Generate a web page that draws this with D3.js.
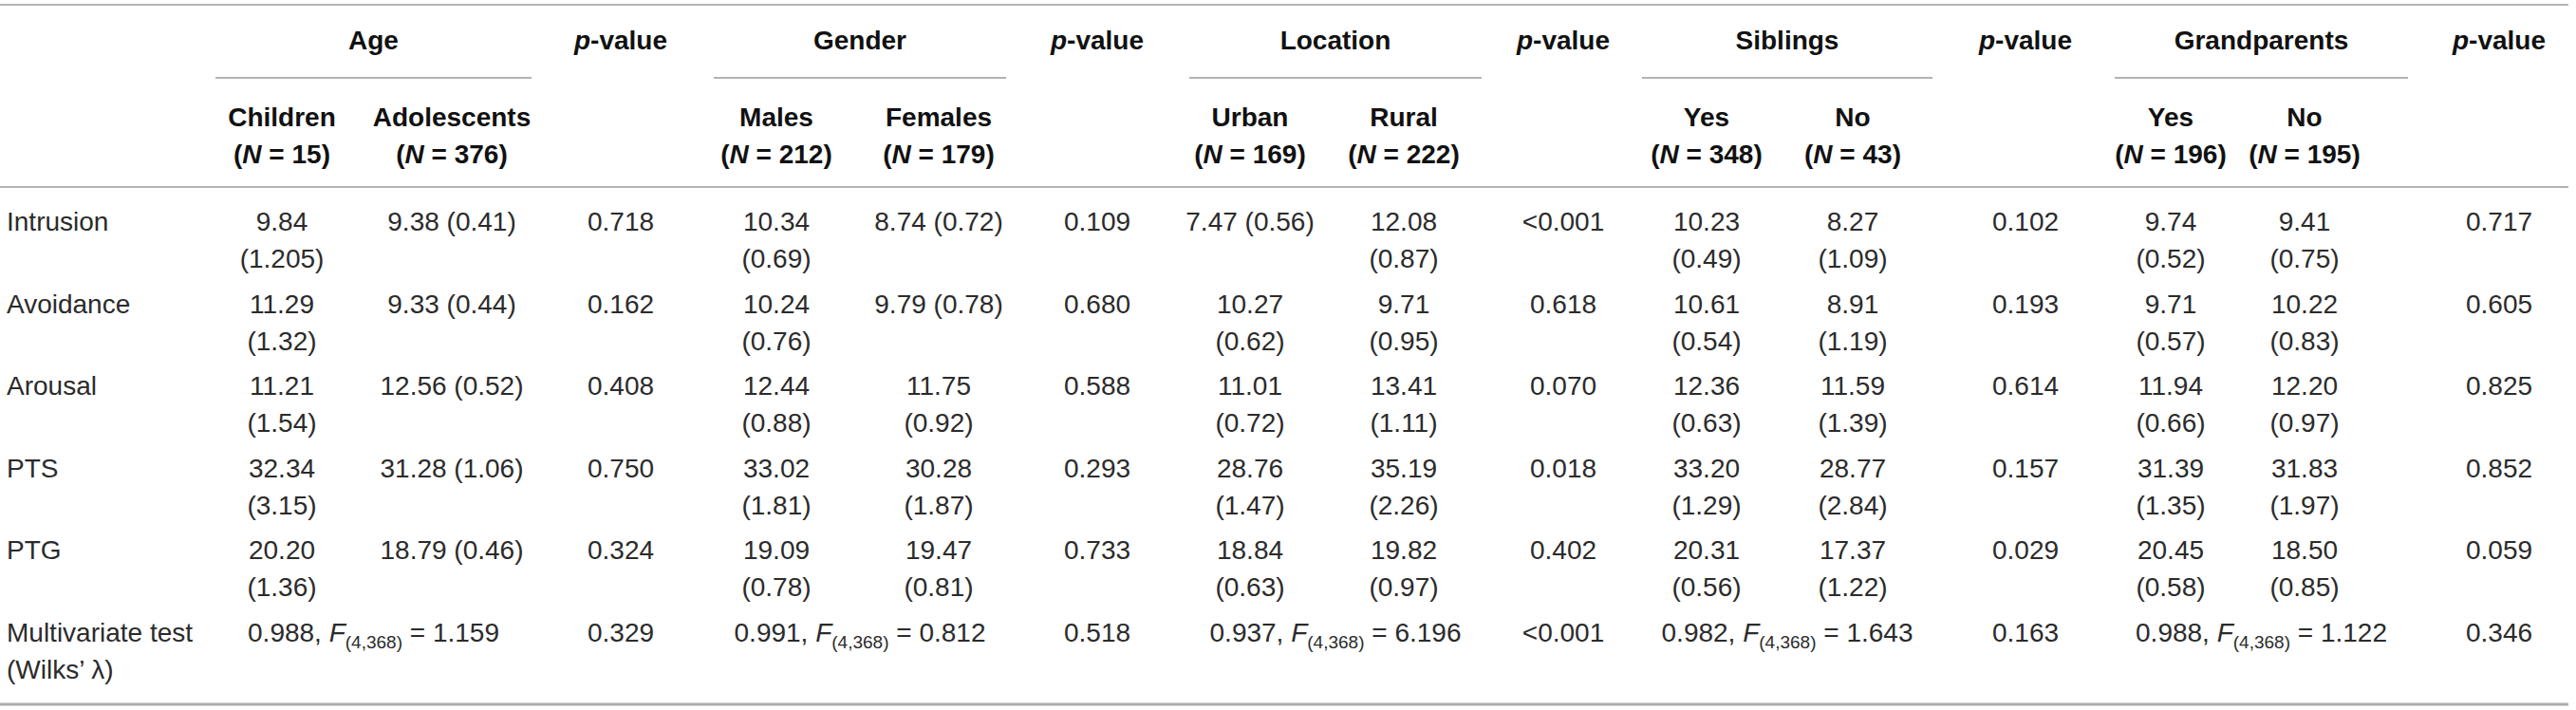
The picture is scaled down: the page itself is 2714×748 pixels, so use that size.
<!DOCTYPE html>
<html>
<head>
<meta charset="utf-8">
<script src="https://cdn.jsdelivr.net/npm/d3@7"></script>
<style>
  body { margin: 0; background: #fff; }
  svg text { font-family: "Liberation Sans", Arial, Helvetica, sans-serif; }
</style>
</head>
<body>
<svg id="table"></svg>
<script>
var rowLabels = ["Intrusion", "Avoidance", "Arousal", "PTS", "PTG"]
var groups = ["Age", "Gender", "Location", "Siblings", "Grandparents"]
var subLabels = ["Children", "Adolescents", "Males", "Females", "Urban", "Rural", "Yes", "No", "Yes", "No"]
var subN = [15, 376, 212, 179, 169, 222, 348, 43, 196, 195]

// mean per row, one entry per sub column
var means = [
  ["9.84", "9.38", "10.34", "8.74", "7.47", "12.08", "10.23", "8.27", "9.74", "9.41"],
  ["11.29", "9.33", "10.24", "9.79", "10.27", "9.71", "10.61", "8.91", "9.71", "10.22"],
  ["11.21", "12.56", "12.44", "11.75", "11.01", "13.41", "12.36", "11.59", "11.94", "12.20"],
  ["32.34", "31.28", "33.02", "30.28", "28.76", "35.19", "33.20", "28.77", "31.39", "31.83"],
  ["20.20", "18.79", "19.09", "19.47", "18.84", "19.82", "20.31", "17.37", "20.45", "18.50"]
]
var sds = [
  ["1.205", "0.41", "0.69", "0.72", "0.56", "0.87", "0.49", "1.09", "0.52", "0.75"],
  ["1.32", "0.44", "0.76", "0.78", "0.62", "0.95", "0.54", "1.19", "0.57", "0.83"],
  ["1.54", "0.52", "0.88", "0.92", "0.72", "1.11", "0.63", "1.39", "0.66", "0.97"],
  ["3.15", "1.06", "1.81", "1.87", "1.47", "2.26", "1.29", "2.84", "1.35", "1.97"],
  ["1.36", "0.46", "0.78", "0.81", "0.63", "0.97", "0.56", "1.22", "0.58", "0.85"]
]

// p-values per group, last entry is the multivariate test
var pAge = ["0.718", "0.162", "0.408", "0.750", "0.324", "0.329"]
var pGender = ["0.109", "0.680", "0.588", "0.293", "0.733", "0.518"]
var pLocation = ["<0.001", "0.618", "0.070", "0.018", "0.402", "<0.001"]
var pSiblings = ["0.102", "0.193", "0.614", "0.157", "0.029", "0.163"]
var pGrandparents = ["0.717", "0.605", "0.825", "0.852", "0.059", "0.346"]

var wilks = ["0.988", "0.991", "0.937", "0.982", "0.988"]
var fStat = ["1.159", "0.812", "6.196", "1.643", "1.122"]

// --- layout ---
var W = 2714, H = 748
var FONT = 28
var LINE_END = 2706
var INK = "#2b2b2b"
var HEAD = "#111"
var RULE = "#9a9a9a"

var svg = d3.select("#table").attr("width", W).attr("height", H)

// sub column centres and the width a "mean (sd)" can take before it wraps
var subX = d3.scaleOrdinal().domain(d3.range(10))
  .range([297, 476, 818, 989, 1317, 1479, 1798, 1952, 2287, 2428])
var subMaxW = [128, 180, 128, 142, 142, 125, 125, 125, 125, 125]
// group spans (underline extents) and p-value columns
var groupSpan = d3.scaleOrdinal().domain(d3.range(5))
  .range([[227, 560], [752, 1060], [1253, 1561], [1730, 2036], [2228, 2537]])
var pX = d3.scaleOrdinal().domain(d3.range(5))
  .range([654, 1156, 1647, 2134, 2633])
var pCols = [pAge, pGender, pLocation, pSiblings, pGrandparents]

// baseline of each body row
var rowY = d3.scaleLinear().domain([0, 5]).range([243, 676])
var LINE2 = 39

function rule(y, x1, x2, w, color) {
  svg.append("line")
    .attr("x1", x1).attr("x2", x2)
    .attr("y1", y).attr("y2", y)
    .attr("stroke", color || RULE)
    .attr("stroke-width", w || 1.5)
}

rule(5, 0, LINE_END)
rule(197, 0, LINE_END)
rule(742, 0, LINE_END, 3, "#ababab")

// group headers with their underline
groups.forEach(function(g, i) {
  var span = groupSpan(i)
  svg.append("text")
    .attr("x", (span[0] + span[1]) / 2).attr("y", 52)
    .attr("text-anchor", "middle")
    .attr("font-size", FONT).attr("font-weight", "bold").attr("fill", HEAD)
    .text(g)
  rule(82, span[0], span[1])

  var p = svg.append("text")
    .attr("x", pX(i)).attr("y", 52)
    .attr("text-anchor", "middle")
    .attr("font-size", FONT).attr("font-weight", "bold").attr("fill", HEAD)
  p.append("tspan").attr("font-style", "italic").text("p")
  p.append("tspan").text("-value")
})

// sub column headers: name and (N = n)
subLabels.forEach(function(s, i) {
  svg.append("text")
    .attr("x", subX(i)).attr("y", 133)
    .attr("text-anchor", "middle")
    .attr("font-size", FONT).attr("font-weight", "bold").attr("fill", HEAD)
    .text(s)
  var n = svg.append("text")
    .attr("x", subX(i)).attr("y", 172)
    .attr("text-anchor", "middle")
    .attr("font-size", FONT).attr("font-weight", "bold").attr("fill", HEAD)
  n.append("tspan").text("(")
  n.append("tspan").attr("font-style", "italic").text("N")
  n.append("tspan").text(" = " + subN[i] + ")")
})

// row labels
var labels = rowLabels.concat(["Multivariate test"])
svg.selectAll(".rowLabel")
  .data(labels)
  .enter().append("text")
    .attr("class", "rowLabel")
    .attr("x", 7)
    .attr("y", function(d, i) { return rowY(i) })
    .attr("font-size", FONT).attr("fill", INK)
    .text(function(d) { return d })
svg.append("text")
  .attr("x", 7).attr("y", rowY(5) + LINE2)
  .attr("font-size", FONT).attr("fill", INK)
  .text("(Wilks\u2019 \u03bb)")

// mean (sd) cells, wrapped onto two lines when the column is too narrow
means.forEach(function(row, r) {
  row.forEach(function(m, c) {
    var t = svg.append("text")
      .attr("x", subX(c)).attr("y", rowY(r))
      .attr("text-anchor", "middle")
      .attr("font-size", FONT).attr("fill", INK)
      .text(m + " (" + sds[r][c] + ")")
    if (t.node().getComputedTextLength() > subMaxW[c]) {
      t.text(m)
      svg.append("text")
        .attr("x", subX(c)).attr("y", rowY(r) + LINE2)
        .attr("text-anchor", "middle")
        .attr("font-size", FONT).attr("fill", INK)
        .text("(" + sds[r][c] + ")")
    }
  })
})

// p-value cells
pCols.forEach(function(col, g) {
  svg.selectAll(".p" + g)
    .data(col)
    .enter().append("text")
      .attr("class", "p" + g)
      .attr("x", pX(g))
      .attr("y", function(d, i) { return rowY(i) })
      .attr("text-anchor", "middle")
      .attr("font-size", FONT).attr("fill", INK)
      .text(function(d) { return d })
})

// multivariate test, spanning both sub columns of a group
wilks.forEach(function(w, g) {
  var span = groupSpan(g)
  var t = svg.append("text")
    .attr("x", (span[0] + span[1]) / 2).attr("y", rowY(5))
    .attr("text-anchor", "middle")
    .attr("font-size", FONT).attr("fill", INK)
  t.append("tspan").text(w + ", ")
  t.append("tspan").attr("font-style", "italic").text("F")
  t.append("tspan").attr("font-size", 19).attr("dy", 7).text("(4,368)")
  t.append("tspan").attr("dy", -7).text(" = " + fStat[g])
})
</script>
</body>
</html>
